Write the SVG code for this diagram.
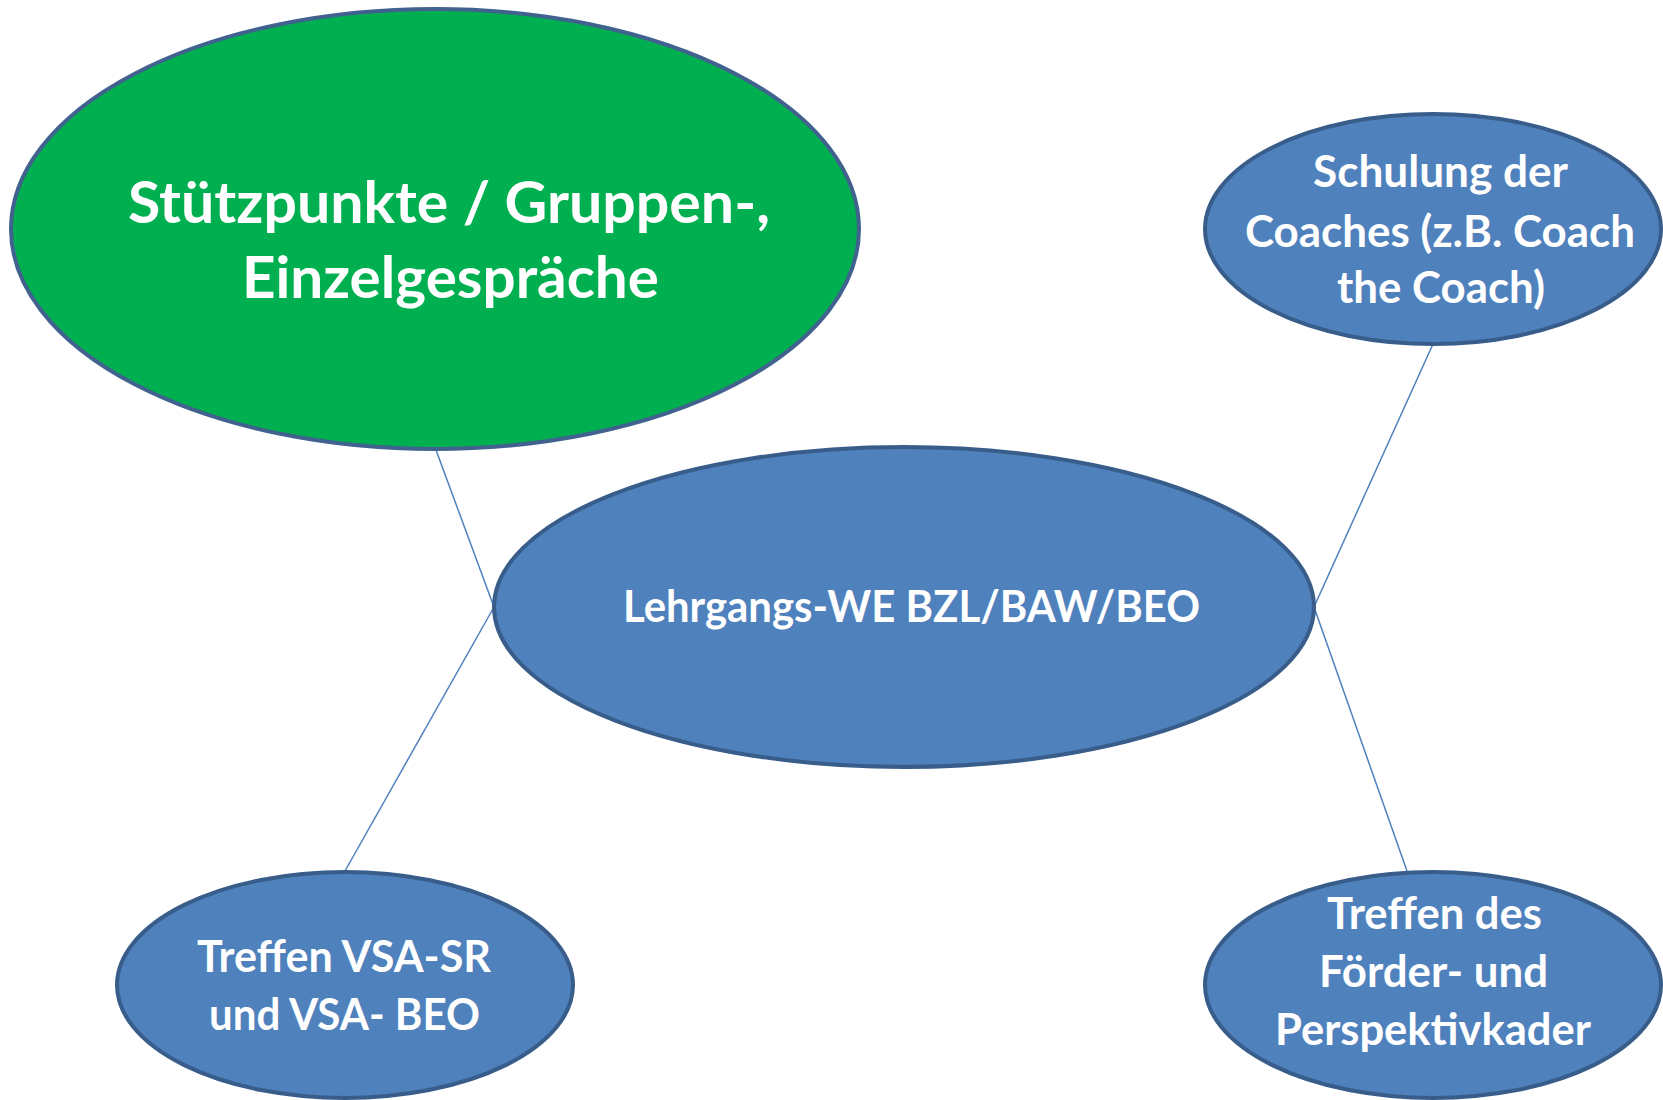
<svg xmlns="http://www.w3.org/2000/svg" width="1663" height="1100" viewBox="0 0 1663 1100">
<style>
.green{fill:#00B050;stroke:#41618F;stroke-width:4}
.blue{fill:#4F81BD;stroke:#385D8A;stroke-width:4}
.t{font-family:Lato,"Open Sans","Liberation Sans",sans-serif;font-weight:bold;fill:#FFFFFF}
.big{font-size:58px}
.mid{font-size:44px}
.sm{font-size:44px}
.c{stroke:#4F81BD;stroke-width:1.5;fill:none}
</style>
<rect width="1663" height="1100" fill="#FFFFFF"/>
<g id="connectors">
<line class="c" x1="436" y1="450" x2="494" y2="607"/>
<line class="c" x1="494" y1="607" x2="345" y2="871"/>
<line class="c" x1="1314" y1="607" x2="1433" y2="344"/>
<line class="c" x1="1314" y1="607" x2="1407" y2="871"/>
</g>
<g id="node-stuetzpunkte">
<ellipse class="green" cx="435" cy="229" rx="424" ry="220"/>
<text class="t big" x="128" y="223" textLength="642" lengthAdjust="spacingAndGlyphs">Stützpunkte / Gruppen-,</text>
<text class="t big" x="242" y="298" textLength="417" lengthAdjust="spacingAndGlyphs">Einzelgespräche</text>
</g>
<g id="node-lehrgang">
<ellipse class="blue" cx="904" cy="607" rx="410" ry="160"/>
<text class="t mid" x="623" y="622" textLength="577" lengthAdjust="spacingAndGlyphs">Lehrgangs-WE BZL/BAW/BEO</text>
</g>
<g id="node-schulung">
<ellipse class="blue" cx="1433" cy="229" rx="228" ry="115"/>
<text class="t sm" x="1313" y="187" textLength="255" lengthAdjust="spacingAndGlyphs">Schulung der</text>
<text class="t sm" x="1245" y="247" textLength="390" lengthAdjust="spacingAndGlyphs">Coaches (z.B. Coach</text>
<text class="t sm" x="1337" y="303" textLength="208" lengthAdjust="spacingAndGlyphs">the Coach)</text>
</g>
<g id="node-vsa">
<ellipse class="blue" cx="345" cy="985" rx="228" ry="113"/>
<text class="t sm" x="197" y="972" textLength="294" lengthAdjust="spacingAndGlyphs">Treffen VSA-SR</text>
<text class="t sm" x="209" y="1030" textLength="271" lengthAdjust="spacingAndGlyphs">und VSA- BEO</text>
</g>
<g id="node-kader">
<ellipse class="blue" cx="1433" cy="985" rx="228" ry="113"/>
<text class="t sm" x="1327" y="929" textLength="215" lengthAdjust="spacingAndGlyphs">Treffen des</text>
<text class="t sm" x="1319" y="987" textLength="229" lengthAdjust="spacingAndGlyphs">Förder- und</text>
<text class="t sm" x="1275" y="1045" textLength="316" lengthAdjust="spacingAndGlyphs">Perspektivkader</text>
</g>
</svg>
